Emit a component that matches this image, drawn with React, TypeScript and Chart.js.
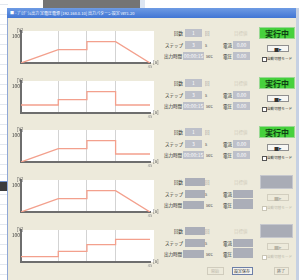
import React, { useEffect, useRef } from "react";
import { Chart, registerables } from "chart.js";
Chart.register(...registerables);

// ---- data ----
const STEP_BOUNDS = [0, 13, 23, 33, 45];
const ch1Times = [0, 13, 23, 23, 33, 45];
const ch1Values = [0, 50, 50, 80, 80, 0];
const ch2Times = [0, 13, 13, 23, 23, 33, 33, 45];
const ch2Values = [30, 30, 50, 50, 80, 80, 30, 30];
const ch3Times = [0, 13, 23, 23, 33, 33, 45];
const ch3Values = [0, 50, 50, 80, 80, 30, 30];
const ch4Times = [0, 13, 23, 23, 33, 45];
const ch4Values = [0, 50, 50, 80, 80, 0];
const ch5Times = [0, 13, 13, 23, 23, 33, 33, 45];
const ch5Values = [20, 20, 40, 40, 65, 65, 85, 85];
const Y_TICK_LABELS = [100];
const X_TICK_LABELS = [45];
const Y_UNIT = "[V]";
const X_UNIT = "[s]";

const panelActive = [true, true, true, false, false];
const countValues = ["1", "1", "1", "", ""];
const stepValues = ["3", "3", "3", "", ""];
const timeValues = ["00:00:15", "00:00:15", "00:00:15", "", ""];
const currentValues = ["0.00", "0.00", "0.00", "", ""];
const voltageValues = ["0.00", "0.00", "0.00", "", ""];

const SERIES = [
  [ch1Times, ch1Values],
  [ch2Times, ch2Values],
  [ch3Times, ch3Values],
  [ch4Times, ch4Values],
  [ch5Times, ch5Values],
];

const FONT = '"Noto Sans CJK JP", "Noto Sans", sans-serif';
const BODY = "#EDEADB";

const panelPlugin = {
  id: "panelPlugin",
  beforeDraw(chart: any) {
    const { ctx, chartArea: a } = chart;
    ctx.save();
    ctx.fillStyle = "#ffffff";
    ctx.fillRect(a.left, a.top, a.right - a.left + 4, a.bottom - a.top);
    ctx.restore();
  },
  afterDraw(chart: any) {
    const { ctx, chartArea: a } = chart;
    ctx.save();
    ctx.fillStyle = "#555";
    ctx.font = "5px " + FONT;
    ctx.textAlign = "center";
    ctx.textBaseline = "bottom";
    ctx.fillText(Y_UNIT, a.left - 1, a.top + 2);
    ctx.textAlign = "left";
    ctx.textBaseline = "middle";
    ctx.fillText(X_UNIT, a.right + 3, a.bottom - 1);
    ctx.restore();
  },
};

function StepChart({ times, values, top }: { times: number[]; values: number[]; top: number }) {
  const ref = useRef<HTMLCanvasElement | null>(null);
  useEffect(() => {
    if (!ref.current) return;
    const chart = new Chart(ref.current, {
      type: "line",
      data: {
        datasets: [
          {
            data: times.map((t, i) => ({ x: t, y: values[i] })),
            borderColor: "#F3A08D",
            borderWidth: 1.3,
            pointRadius: 0,
            tension: 0,
            fill: false,
          },
        ],
      },
      options: {
        responsive: false,
        animation: false,
        layout: { padding: { left: 0, right: 10, top: 11, bottom: 0 } },
        plugins: { legend: { display: false }, tooltip: { enabled: false } },
        scales: {
          x: {
            type: "linear",
            min: 0,
            max: 45,
            afterBuildTicks: (s: any) => {
              s.ticks = STEP_BOUNDS.map((v) => ({ value: v }));
            },
            afterFit: (s: any) => {
              s.height = 6;
            },
            ticks: {
              font: { size: 4, family: FONT },
              color: "#888",
              padding: 1,
              maxRotation: 0,
              autoSkip: false,
              callback: (v: any) => (X_TICK_LABELS.includes(Number(v)) ? String(v) : ""),
            },
            grid: {
              drawTicks: false,
              lineWidth: 1,
              color: (c: any) =>
                c.tick && (c.tick.value === 0 || c.tick.value === 45) ? "rgba(0,0,0,0)" : "#D3D3D3",
            },
            border: { color: "#6E6E6E", width: 2 },
          },
          y: {
            min: 0,
            max: 120,
            afterBuildTicks: (s: any) => {
              s.ticks = Y_TICK_LABELS.map((v) => ({ value: v }));
            },
            afterFit: (s: any) => {
              s.width = 13;
            },
            ticks: { font: { size: 5, family: FONT }, color: "#333", padding: 1 },
            grid: { display: false, drawTicks: false },
            border: { color: "#6E6E6E", width: 2 },
          },
        },
      },
      plugins: [panelPlugin],
    } as any);
    return () => chart.destroy();
  }, [times, values]);
  return (
    <canvas
      ref={ref}
      width={152}
      height={49}
      style={{ position: "absolute", left: 8, top, width: 152, height: 49 }}
    />
  );
}

function T({ x, y, s = 5, c = "#222", children, w, align, bold }: any) {
  return (
    <div
      style={{
        position: "absolute",
        left: x,
        top: y,
        width: w,
        textAlign: align || "left",
        fontSize: s,
        lineHeight: 1,
        color: c,
        whiteSpace: "nowrap",
        fontFamily: FONT,
        fontWeight: bold ? 700 : 400,
      }}
    >
      {children}
    </div>
  );
}

function Box({ x, y, w, h, bg = "#B9BCC6", children, c = "#fff", border }: any) {
  return (
    <div
      style={{
        position: "absolute",
        left: x,
        top: y,
        width: w,
        height: h,
        background: bg,
        border: border || "none",
        boxSizing: "border-box",
        fontSize: 5,
        lineHeight: h + "px",
        color: c,
        textAlign: "center",
        fontFamily: FONT,
        overflow: "hidden",
        whiteSpace: "nowrap",
      }}
    >
      {children}
    </div>
  );
}

function Panel({ i }: { i: number }) {
  const b = Math.round(27 + 49.6 * i);
  const active = panelActive[i];
  const boxBg = active ? "#BDC0C9" : "#ABAEB8";
  const lab = "#2a2a2a";
  return (
    <>
      <T x={163} y={b + 4} w={20} align="right" c={lab} s={4.5}>回数</T>
      <Box x={185} y={b + 2} w={active ? 17 : 20} h={8} bg={boxBg}>{countValues[i]}</Box>
      <T x={205} y={b + 4} c="#a0a0a0" s={4.5}>回</T>
      <T x={234} y={b + 4} c="#D2CDBD" s={4.5}>目標値</T>

      <T x={163} y={b + 16} w={20} align="right" c={lab} s={4.5}>ステップ</T>
      <Box x={185} y={b + 14} w={active ? 17 : 20} h={8} bg={boxBg}>{stepValues[i]}</Box>
      <T x={205} y={b + 16} c="#555" s={4.5}>s</T>
      <T x={212} y={b + 16} w={20} align="right" c={lab} s={4.5}>電流</T>
      <Box x={233} y={b + 14} w={active ? 17 : 20} h={8} bg={boxBg}>{currentValues[i]}</Box>

      <T x={161} y={b + 27} w={21} align="right" c={lab} s={4.5}>出力時間</T>
      <Box x={183} y={b + 25} w={21} h={8} bg={boxBg}>{timeValues[i]}</Box>
      <T x={206} y={b + 27} c="#555" s={4.5}>sec</T>
      <T x={212} y={b + 27} w={20} align="right" c={lab} s={4.5}>電圧</T>
      <Box x={233} y={active ? b + 25 : b + 23} w={active ? 17 : 20} h={active ? 8 : 10} bg={boxBg}>
        {voltageValues[i]}
      </Box>

      {active ? (
        <div
          style={{
            position: "absolute",
            left: 259,
            top: b,
            width: 36,
            height: 12,
            background: "#46D13C",
            border: "1px solid #9ad894",
            boxSizing: "border-box",
            textAlign: "center",
            lineHeight: "11px",
            fontSize: 8,
            fontWeight: 700,
            color: "#0d3f12",
            fontFamily: FONT,
          }}
        >
          実行中
        </div>
      ) : (
        <div
          style={{
            position: "absolute",
            left: 260,
            top: b - 1,
            width: 33,
            height: 14,
            background: "#A9ACB6",
            border: "1px solid #c6c8ce",
            boxSizing: "border-box",
          }}
        />
      )}
      <div
        style={{
          position: "absolute",
          left: 267,
          top: b + 18,
          width: 22,
          height: 7,
          background: active ? "#F7F7F4" : BODY,
          border: "1px solid " + (active ? "#8f8f8f" : "#d2cebf"),
          boxSizing: "border-box",
          fontSize: 5,
          lineHeight: "5px",
          textAlign: "center",
          color: active ? "#333" : "#b8b4a6",
          fontFamily: FONT,
        }}
      >
        ■▸
      </div>
      <div
        style={{
          position: "absolute",
          left: 262,
          top: b + 30,
          width: 3,
          height: 3,
          border: "1px solid " + (active ? "#555" : "#c9c5b6"),
          background: "#fff",
        }}
      />
      <T x={267} y={b + 30} s={3.6} c={active ? "#333" : "#c0bcae"}>自動切替モード</T>
    </>
  );
}

export default function App() {
  useEffect(() => {
    document.body.style.margin = "0";
  }, []);
  const chartTops = [20, 69.5, 119, 169, 218.5];
  return (
    <div
      style={{
        position: "fixed",
        left: 0,
        top: 0,
        width: 299,
        height: 280,
        overflow: "hidden",
        background: "#ffffff",
        fontFamily: FONT,
      }}
    >
      {/* background desktop */}
      {Array.from({ length: 28 }).map((_, k) => (
        <div
          key={k}
          style={{ position: "absolute", left: 0, top: k * 10 + 4, width: 8, height: 1, background: "#E3E8EF" }}
        />
      ))}
      <div style={{ position: "absolute", left: 0, top: 181, width: 7, height: 9, background: "#3b3b3b", borderTop: "1px solid #6f8fc8" }} />
      <div style={{ position: "absolute", left: 43, top: 0, width: 97, height: 8, background: "#747474" }} />
      <div style={{ position: "absolute", left: 140, top: 0, width: 5, height: 8, background: "#DDE6F2" }} />
      <div style={{ position: "absolute", left: 296, top: 8, width: 3, height: 272, background: "#C6D1E3" }} />

      {/* window */}
      <div
        style={{
          position: "absolute",
          left: 7,
          top: 8,
          width: 289,
          height: 10,
          background: "linear-gradient(#6E9BE3, #4276D4)",
        }}
      />
      <T x={10} y={11} s={4} c="#ffffff">
        ■ - ﾌﾟﾛｸﾞﾗﾑ出力 定電圧電源 [192.168.0.10] 出力パターン設定 Ver1.20
      </T>
      <div
        style={{
          position: "absolute",
          left: 7,
          top: 18,
          width: 289,
          height: 262,
          background: BODY,
          borderLeft: "1px solid #8FA7D6",
          boxSizing: "border-box",
        }}
      />

      {SERIES.map(([t, v], i) => (
        <StepChart key={i} times={t} values={v} top={chartTops[i]} />
      ))}
      {[0, 1, 2, 3, 4].map((i) => (
        <Panel key={i} i={i} />
      ))}

      {/* bottom buttons */}
      <div style={{ position: "absolute", left: 207, top: 267, width: 17, height: 8, border: "1px solid #d0ccbd", boxSizing: "border-box" }} />
      <T x={211} y={269} s={4} c="#bdb9ab">開始</T>
      <div style={{ position: "absolute", left: 232, top: 267, width: 21, height: 8, border: "1px solid #6d7fa8", background: "#F4F3EE", boxSizing: "border-box" }} />
      <T x={234} y={269} s={4} c="#333">設定保存</T>
      <div style={{ position: "absolute", left: 274, top: 267, width: 15, height: 8, border: "1px solid #d0ccbd", boxSizing: "border-box" }} />
      <T x={277} y={269} s={4} c="#777">終了</T>
    </div>
  );
}
